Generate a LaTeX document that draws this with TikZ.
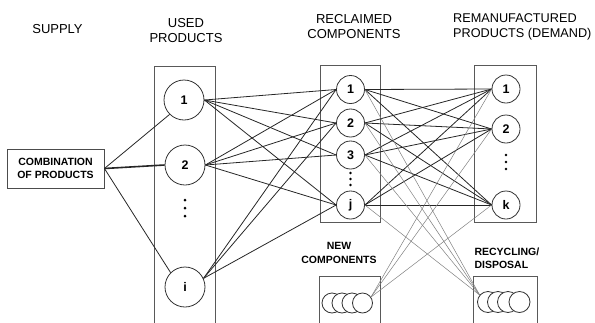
\documentclass[tikz,border=0pt]{standalone}
\usepackage{fontspec}
\setmainfont{Liberation Sans}
\usetikzlibrary{positioning,calc}

\begin{document}
\begin{tikzpicture}[x=1pt,y=-1pt,
  head/.style={font=\fontsize{13}{15}\selectfont,align=center},
  lab/.style={font=\fontsize{10.5}{13.5}\selectfont\bfseries,align=center},
  big/.style={circle,draw=black!80,fill=white,line width=0.8pt,minimum size=40pt,inner sep=0pt,font=\fontsize{12.5}{12.5}\selectfont\bfseries},
  small/.style={big,minimum size=28pt},
  coin/.style={circle,draw=black!80,fill=white,line width=0.8pt,minimum size=20pt,inner sep=0pt},
  frame/.style={draw=black!65,line width=0.9pt},
  link/.style={black!85,line width=0.8pt},
  thin link/.style={black!50,line width=0.5pt}]
\useasboundingbox (0,0) rectangle (595,322);
\clip (0,0) rectangle (595,322);
% headings
\node[head] (supply) at (57.5,29) {SUPPLY};
\node[head] (used) at (186,30.5) {USED\\PRODUCTS};
\node[head] (recl) at (354,27) {RECLAIMED\\COMPONENTS};
\node[head,font=\fontsize{12.7}{15}\selectfont,align=left,anchor=west,inner sep=0pt] (reman) at (453,27) {REMANUFACTURED\\PRODUCTS (DEMAND)};
\node[lab] (newlab) at (339,253) {NEW\\COMPONENTS};
\node[lab,align=left,anchor=west] (reclab) at (471,258) {RECYCLING/\\DISPOSAL};
% frames
\draw[frame] (154,330) |- (215,66) -- (215,330);
\draw[frame] (320,65) rectangle (380,222);
\draw[frame] (474,65) rectangle (536,222);
\draw[frame] (319,330) |- (380,276) -- (380,330);
\draw[frame] (473,330) |- (537,276) -- (537,330);
\node[draw=black!70,line width=0.9pt,minimum width=97pt,minimum height=39pt,lab] (comb) at (55.5,168.5) {COMBINATION\\OF PRODUCTS};
% used products
\node[big] (u1) at (184,100) {1};
\node[big] (u2) at (185,165) {2};
\node[big] (ui) at (185,287) {i};
% reclaimed components
\node[small] (r1) at (350.5,89.5) {1};
\node[small] (r2) at (350.5,123) {2};
\node[small] (r3) at (350.5,155) {3};
\node[small] (rj) at (350.5,205) {j};
% remanufactured products
\node[small] (m1) at (506,89) {1};
\node[small] (m2) at (506,129) {2};
\node[small] (mk) at (506,205) {k};
% dots
\foreach \y in {200,208,216} \fill (185,\y) circle (1.5pt);
\foreach \y in {173,179,185} \fill (350.5,\y) circle (1.3pt);
\foreach \y in {155,162,169} \fill (506,\y) circle (1.3pt);
% stacks
\foreach \k/\xx in {1/332,2/342,3/352,4/362.5}
  \node[coin] (n\k) at (\xx,303) {};
\foreach \k/\xx in {1/488,2/498,3/508,4/519.5}
  \node[coin,minimum size=21pt] (d\k) at (\xx,302) {};
% supply links
\draw[link] (comb.east) -- (u1.225);
\draw[link,line width=1.6pt] (comb.east) -- (u2.west);
\draw[link] (comb.east) -- (ui.135);
% used -> reclaimed
\foreach \s in {u1,u2}
  \foreach \t in {r1,r2,r3,rj}
    \draw[link] (\s.east) -- (\t.west);
\foreach \t in {r1,r2,rj}
  \draw[link] (ui.25) -- (\t.west);
% reclaimed -> remanufactured
\foreach \s in {r1,r2,r3,rj}
  \foreach \t in {m1,m2,mk}
    \draw[link] (\s.east) -- (\t.west);
% disposal and new components
\foreach \s in {r1,r2,r3,rj}
  \draw[thin link] (\s.east) -- (d1.140);
\foreach \t in {m1,m2,mk}
  \draw[thin link] (n4.35) -- (\t.west);
\end{tikzpicture}
\end{document}
